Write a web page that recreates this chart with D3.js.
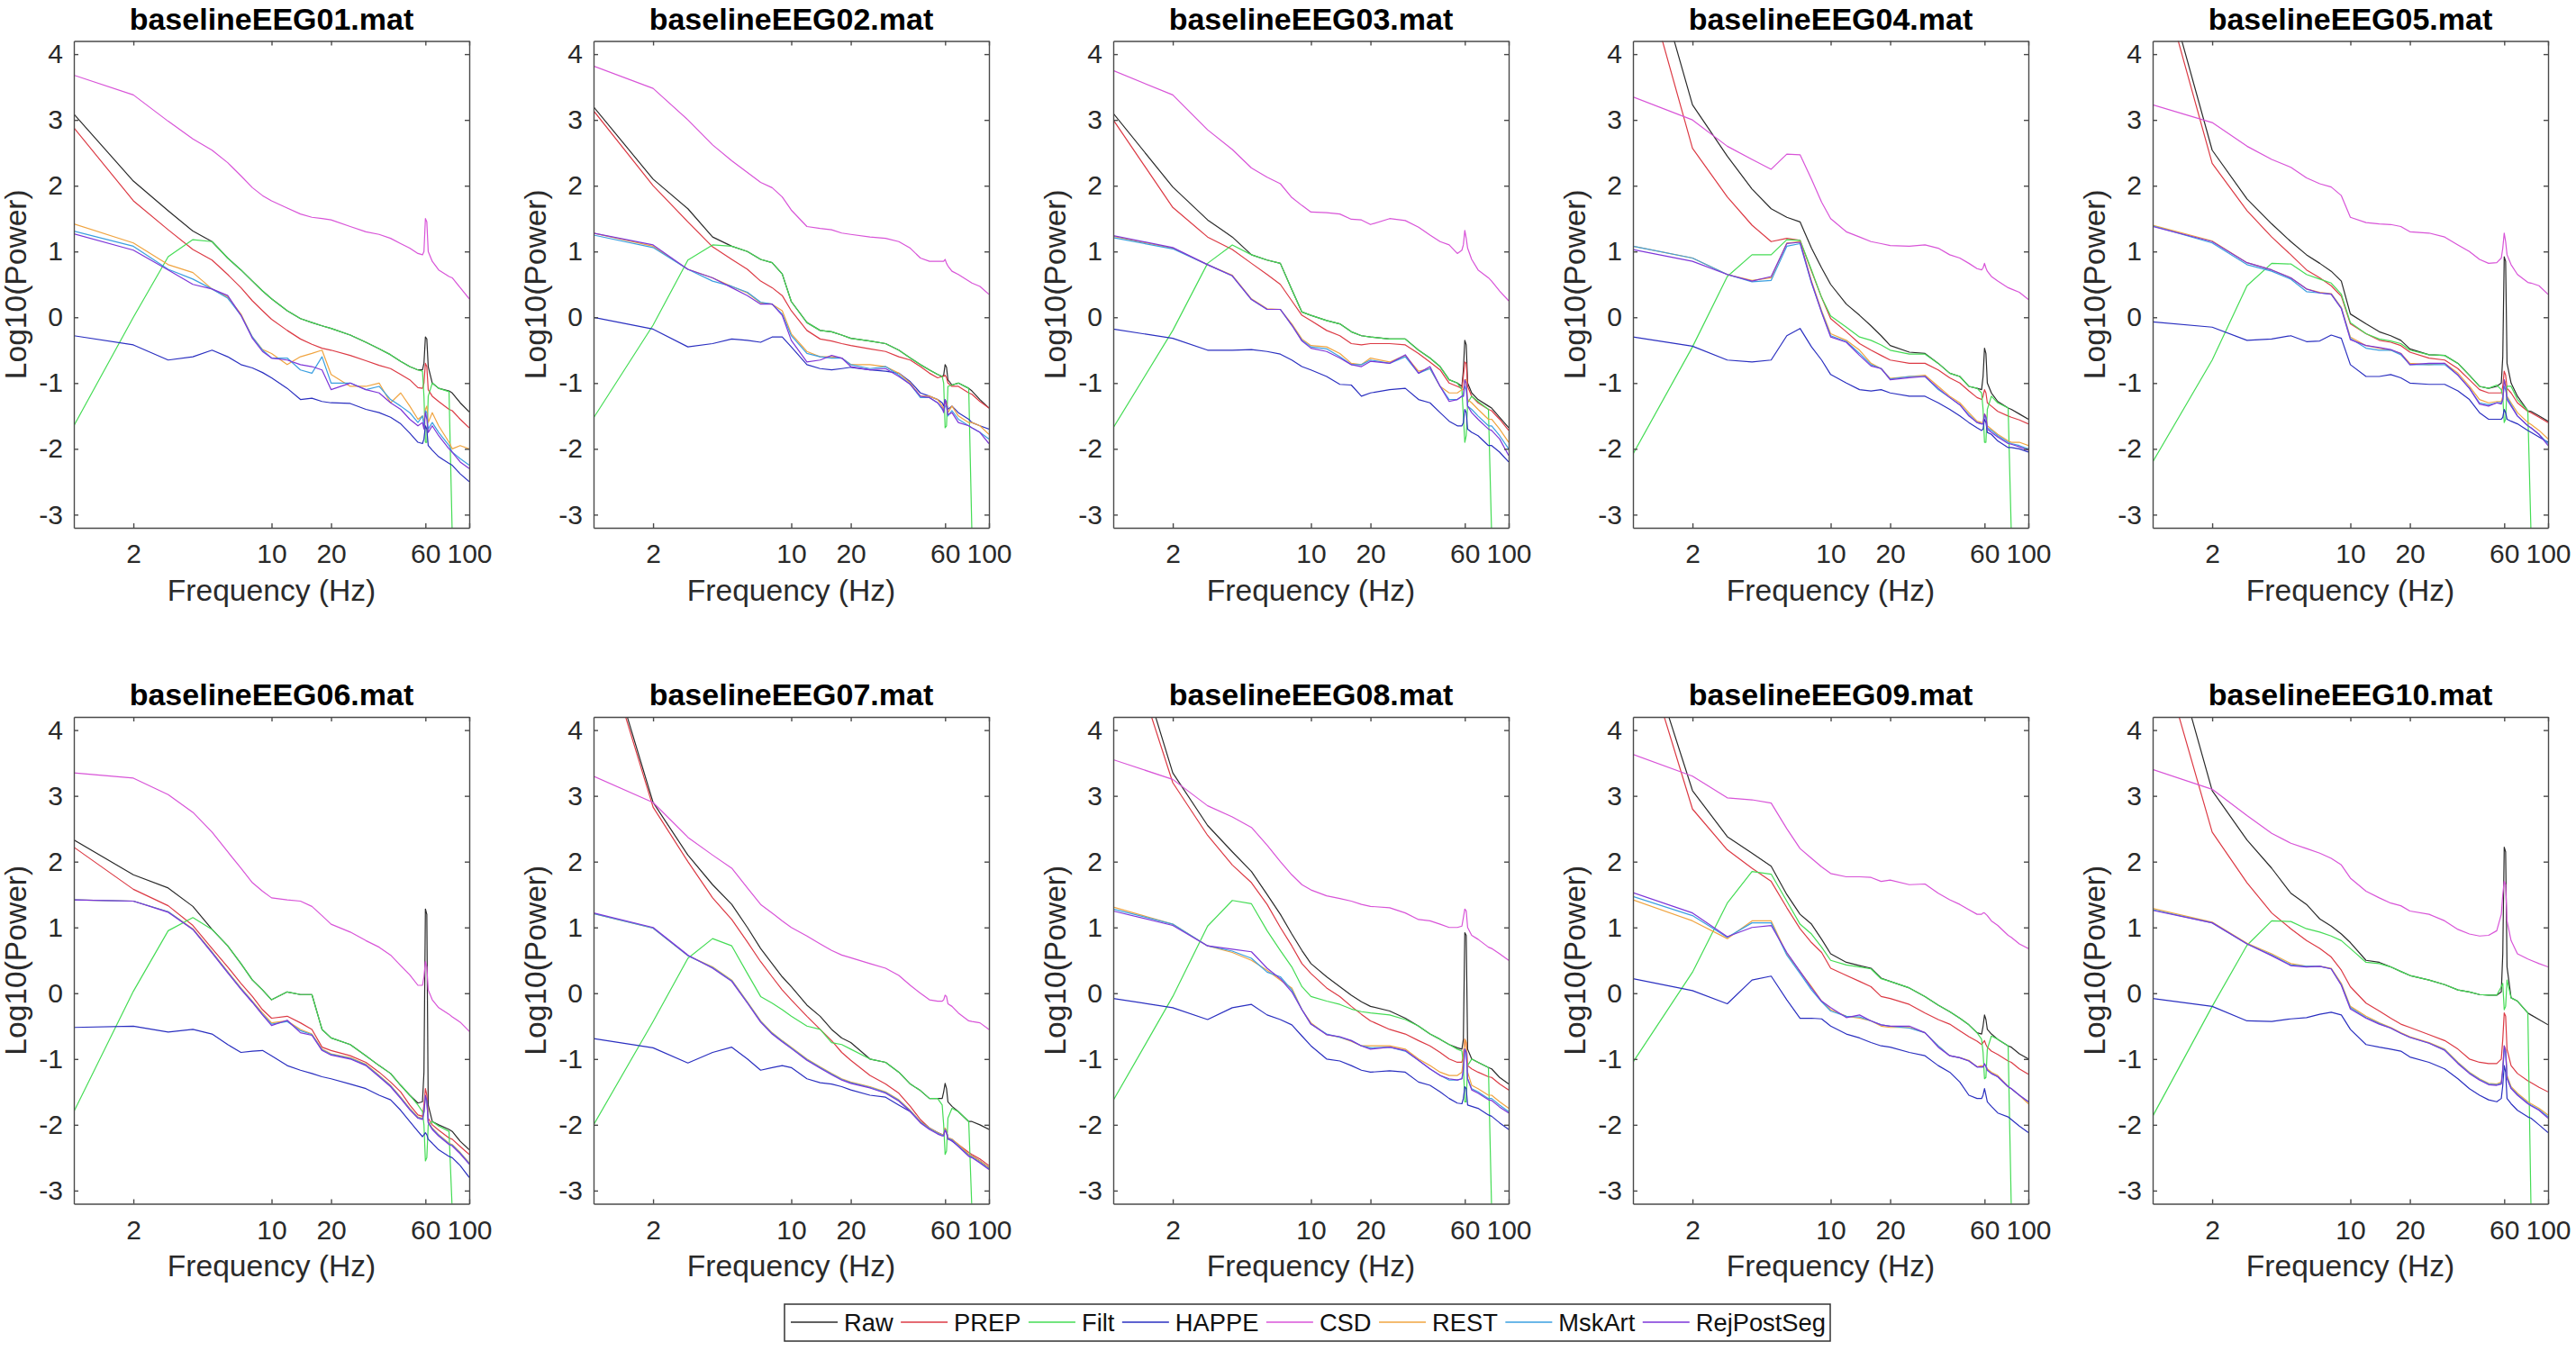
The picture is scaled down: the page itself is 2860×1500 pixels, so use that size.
<!DOCTYPE html>
<html><head><meta charset="utf-8">
<script src="https://cdn.jsdelivr.net/npm/d3@7"></script>
<style>html,body{margin:0;padding:0;background:#fff}svg{display:block}text{font-family:"Liberation Sans",Arial,sans-serif}</style>
</head><body><svg id="c" width="2860" height="1500"></svg>
<script>
const freqs=[1,2,3,4,5,6,7,8,9,10, 12,14,16,18,20, 25,30,35,40,45,50,55, 58,59,60,61,62, 65,70,79,82,90,100];
const xTicks=[2,10,20,60,100];
const yTicks=[-3,-2,-1,0,1,2,3,4];
const seriesNames=["Raw","PREP","Filt","HAPPE","CSD","REST","MskArt","RejPostSeg"];
const seriesColors=["#2b2b2b","#dc3a44","#45dc55","#2a2fc0","#d854d8","#f0a440","#3a9fe0","#7d35d8"];
const titles=["baselineEEG01.mat","baselineEEG02.mat","baselineEEG03.mat","baselineEEG04.mat","baselineEEG05.mat","baselineEEG06.mat","baselineEEG07.mat","baselineEEG08.mat","baselineEEG09.mat","baselineEEG10.mat"];

const raw01=[3.09,2.07,1.62,1.31,1.15,.9,.72,.55,.4,.28, .1,-.02,-.08,-.13,-.17, -.27,-.38,-.48,-.57,-.67,-.75,-.8, -.8,-.7,-.3,-.33,-.75, -1,-1.08,-1.12,-1.15,-1.3,-1.44];
const prep01=[2.88,1.77,1.33,1.03,.87,.65,.45,.25,.1,-.03, -.2,-.33,-.41,-.47,-.5, -.58,-.66,-.73,-.78,-.87,-.95,-1.07, -1.08,-1,-.7,-.75,-1.1, -1.2,-1.28,-1.4,-1.42,-1.55,-1.68];
const filt01=[-1.65,0,.92,1.18,1.15,.9,.72,.55,.4,.28, .1,-.02,-.08,-.13,-.17, -.27,-.38,-.48,-.57,-.67,-.75,-.8, -.82,-1.2,-1.9,-1.9,-1.2, -1,-1.08,-1.13,-3.3,-9,-9];
const happe01=[-.28,-.42,-.65,-.6,-.5,-.6,-.72,-.77,-.84,-.92, -1.08,-1.25,-1.23,-1.28,-1.3, -1.31,-1.4,-1.45,-1.52,-1.62,-1.76,-1.9, -1.92,-1.85,-1.65,-1.7,-1.95, -2.02,-2.12,-2.22,-2.25,-2.38,-2.5];
const csd01=[3.68,3.38,2.98,2.71,2.54,2.35,2.15,1.97,1.85,1.77, 1.66,1.57,1.52,1.5,1.48, 1.38,1.3,1.26,1.2,1.12,1.05,.97, .95,1,1.5,1.45,1, .85,.72,.62,.6,.45,.28];
const rest01=[1.42,1.13,.8,.68,.43,.31,.05,-.3,-.49,-.55, -.72,-.6,-.55,-.5,-.87, -1.05,-1.05,-1,-1.3,-1.15,-1.35,-1.55, -1.5,-1.6,-1.4,-1.35,-1.6, -1.45,-1.65,-1.9,-2,-1.95,-2];
const msk01=[1.31,1.08,.73,.58,.43,.29,.03,-.3,-.5,-.62, -.62,-.8,-.85,-.6,-1, -1,-1.1,-1.05,-1.25,-1.35,-1.45,-1.6, -1.5,-1.65,-1.42,-1.45,-1.7, -1.6,-1.75,-1.95,-2.05,-2.15,-2.25];
const rej01=[1.27,1.02,.72,.5,.43,.33,.03,-.32,-.52,-.62, -.65,-.72,-.75,-.8,-1.1, -1,-1.1,-1.15,-1.3,-1.4,-1.55,-1.65, -1.6,-1.7,-1.45,-1.55,-1.75, -1.65,-1.8,-2,-2.05,-2.2,-2.3];

const raw02=[3.2,2.1,1.65,1.22,1.08,1,.88,.83,.66,.24, -.08,-.2,-.22,-.27,-.32, -.36,-.4,-.5,-.62,-.72,-.8,-.87, -.9,-.88,-.72,-.76,-.95, -1.03,-1,-1.08,-1.12,-1.25,-1.38];
const prep02=[3.14,2,1.45,1.07,.88,.73,.55,.45,.33,.1, -.2,-.33,-.36,-.4,-.43, -.48,-.52,-.6,-.65,-.75,-.85,-.92, -.9,-.9,-.88,-.92,-1, -1.05,-1.05,-1.15,-1.17,-1.28,-1.38];
const filt02=[-1.53,-.12,.87,1.1,1.08,1,.88,.83,.66,.24, -.08,-.2,-.22,-.27,-.32, -.36,-.4,-.5,-.62,-.72,-.8,-.87, -.9,-1,-1.68,-1.65,-1.05, -1.03,-1,-1.08,-3.3,-9,-9];
const happe02=[0,-.18,-.45,-.4,-.33,-.35,-.38,-.3,-.3,-.45, -.72,-.78,-.8,-.78,-.76, -.8,-.82,-.85,-.98,-1.15,-1.2,-1.25, -1.3,-1.35,-1.25,-1.3,-1.4, -1.35,-1.45,-1.55,-1.6,-1.65,-1.7];
const csd02=[3.82,3.48,3,2.62,2.38,2.2,2.05,1.97,1.83,1.63, 1.38,1.35,1.33,1.28,1.26, 1.22,1.2,1.15,1.05,.9,.85,.85, .85,.85,.88,.82,.78, .7,.65,.55,.52,.47,.35];
const rest02=[1.28,1.08,.73,.6,.47,.37,.22,.2,.1,-.25, -.52,-.6,-.6,-.62,-.72, -.72,-.75,-.85,-1,-1.2,-1.2,-1.25, -1.35,-1.4,-1.3,-1.3,-1.45, -1.35,-1.5,-1.6,-1.6,-1.65,-1.78];
const msk02=[1.25,1.06,.73,.55,.47,.38,.23,.2,.05,-.28, -.55,-.6,-.62,-.62,-.72, -.78,-.75,-.88,-1.02,-1.22,-1.22,-1.3, -1.4,-1.42,-1.35,-1.35,-1.5, -1.42,-1.55,-1.65,-1.68,-1.75,-1.85];
const rej02=[1.28,1.1,.73,.6,.45,.33,.2,.2,.03,-.35, -.68,-.65,-.58,-.62,-.75, -.8,-.78,-.9,-1.02,-1.2,-1.22,-1.3, -1.38,-1.45,-1.25,-1.35,-1.48, -1.45,-1.6,-1.65,-1.68,-1.75,-1.92];

const raw03=[3.1,1.98,1.48,1.22,.95,.87,.82,.42,.08,.03, -.05,-.1,-.22,-.28,-.3, -.33,-.33,-.5,-.62,-.75,-.95,-1, -1.05,-.8,-.35,-.42,-1, -1.15,-1.25,-1.35,-1.38,-1.52,-1.68];
const prep03=[3,1.67,1.22,1.03,.82,.65,.5,.25,.03,-.05, -.2,-.28,-.4,-.42,-.4, -.4,-.42,-.55,-.68,-.8,-1,-1.05, -1.08,-.9,-.68,-.7,-1.05, -1.2,-1.3,-1.4,-1.42,-1.55,-1.72];
const filt03=[-1.68,-.2,.82,1.1,.95,.87,.82,.42,.08,.03, -.05,-.1,-.22,-.28,-.3, -.33,-.33,-.5,-.62,-.75,-.95,-1, -1.1,-1.5,-1.9,-1.8,-1.3, -1.2,-1.28,-1.4,-3.3,-9,-9];
const happe03=[-.18,-.32,-.5,-.5,-.49,-.52,-.56,-.65,-.75,-.8, -.9,-1.02,-1.03,-1.2,-1.15, -1.1,-1.08,-1.25,-1.3,-1.45,-1.58,-1.65, -1.65,-1.6,-1.4,-1.45,-1.7, -1.75,-1.8,-1.95,-1.95,-2.05,-2.2];
const csd03=[3.75,3.38,2.85,2.55,2.27,2.13,2.03,1.82,1.7,1.6, 1.59,1.57,1.49,1.48,1.41, 1.5,1.47,1.37,1.25,1.15,1.1,.97, 1.02,1.1,1.32,1.2,1.05, .88,.72,.6,.55,.4,.25];
const rest03=[1.23,1.05,.8,.64,.28,.13,.12,-.1,-.33,-.43, -.45,-.55,-.7,-.72,-.62, -.68,-.58,-.82,-.78,-1.05,-1.15,-1.15, -1.1,-1.1,-.95,-.95,-1.25, -1.3,-1.4,-1.55,-1.55,-1.7,-1.9];
const msk03=[1.21,1.04,.8,.63,.27,.12,.12,-.12,-.35,-.45, -.48,-.6,-.72,-.72,-.65, -.7,-.6,-.85,-.78,-1.05,-1.25,-1.25, -1.2,-1.2,-1.05,-1.1,-1.35, -1.4,-1.5,-1.65,-1.65,-1.8,-2];
const rej03=[1.24,1.06,.8,.63,.27,.12,.12,-.12,-.36,-.47, -.52,-.62,-.72,-.75,-.67, -.7,-.57,-.85,-.75,-1.05,-1.28,-1.25, -1.2,-1.2,-.95,-1,-1.35, -1.45,-1.55,-1.7,-1.72,-1.85,-2.1];

const raw04=[6.4,3.23,2.45,1.95,1.65,1.52,1.45,1.05,.75,.5, .2,.03,-.13,-.28,-.43, -.53,-.55,-.7,-.85,-.9,-1.05,-1.08, -1.1,-.9,-.47,-.55,-1, -1.15,-1.28,-1.38,-1.4,-1.47,-1.55];
const prep04=[5.8,2.57,1.83,1.4,1.15,1.2,1.17,.7,.3,-.02, -.22,-.4,-.5,-.58,-.65, -.7,-.7,-.8,-.92,-1,-1.12,-1.22, -1.25,-1.2,-1.1,-1.15,-1.3, -1.35,-1.43,-1.5,-1.52,-1.56,-1.62];
const filt04=[-2.08,-.45,.62,.95,.95,1.18,1.17,.72,.3,.02, -.15,-.3,-.35,-.42,-.5, -.56,-.56,-.7,-.85,-.9,-1.05,-1.08, -1.15,-1.4,-1.9,-1.9,-1.4, -1.2,-1.3,-1.38,-3.3,-9,-9];
const happe04=[-.3,-.44,-.65,-.68,-.65,-.28,-.17,-.45,-.65,-.87, -1,-1.1,-1.12,-1.1,-1.15, -1.2,-1.2,-1.3,-1.4,-1.5,-1.6,-1.68, -1.72,-1.7,-1.55,-1.6,-1.75, -1.78,-1.88,-1.98,-1.98,-2,-2.05];
const csd04=[3.35,3,2.6,2.4,2.25,2.48,2.47,2.1,1.75,1.5, 1.3,1.22,1.15,1.12,1.09, 1.08,1.1,1.05,.95,.9,.82,.74, .72,.75,.82,.75,.7, .62,.55,.45,.43,.38,.27];
const rest04=[1.08,.9,.65,.56,.6,1.13,1.15,.55,.1,-.25, -.35,-.5,-.7,-.78,-.93, -.9,-.88,-1.05,-1.2,-1.3,-1.45,-1.58, -1.6,-1.6,-1.47,-1.5,-1.65, -1.7,-1.78,-1.88,-1.9,-1.9,-1.95];
const msk04=[1.08,.9,.65,.54,.56,1.08,1.12,.52,.08,-.28, -.37,-.55,-.72,-.78,-.94, -.9,-.9,-1.1,-1.22,-1.33,-1.48,-1.6, -1.62,-1.62,-1.5,-1.52,-1.68, -1.72,-1.8,-1.9,-1.92,-1.95,-2];
const rej04=[1.03,.85,.65,.55,.62,1.12,1.14,.53,.07,-.3, -.38,-.58,-.74,-.78,-.95, -.92,-.9,-1.08,-1.22,-1.33,-1.5,-1.6, -1.62,-1.62,-1.47,-1.52,-1.7, -1.75,-1.82,-1.92,-1.93,-1.97,-2.02];

const raw05=[5.8,2.54,1.8,1.42,1.15,.95,.82,.7,.55,.05, -.1,-.22,-.28,-.35,-.48, -.57,-.58,-.7,-.88,-1.05,-1.08,-1.05, -1,-.6,.92,.85,-.7, -1,-1.2,-1.42,-1.43,-1.5,-1.58];
const prep05=[5.6,2.34,1.62,1.22,.95,.72,.6,.48,.32,-.1, -.25,-.35,-.38,-.43,-.53, -.62,-.65,-.78,-.95,-1.1,-1.15,-1.15, -1.15,-1.05,-.82,-.88,-1.08, -1.15,-1.3,-1.43,-1.45,-1.52,-1.6];
const filt05=[-2.2,-.65,.48,.82,.81,.65,.58,.52,.35,-.08, -.25,-.33,-.36,-.4,-.5, -.57,-.58,-.7,-.88,-1.05,-1.08,-1.03, -1.1,-1.2,-1.6,-1.55,-1.05, -1.05,-1.25,-1.42,-3.3,-9,-9];
const happe05=[-.07,-.15,-.35,-.33,-.28,-.37,-.36,-.27,-.32,-.72, -.9,-.9,-.87,-.92,-1, -1.02,-1.02,-1.12,-1.25,-1.45,-1.55,-1.55, -1.55,-1.52,-1.4,-1.45,-1.55, -1.58,-1.62,-1.72,-1.75,-1.82,-1.9];
const csd05=[3.23,2.96,2.6,2.4,2.28,2.12,2.03,1.98,1.85,1.52, 1.44,1.42,1.41,1.38,1.3, 1.28,1.22,1.1,1,.88,.82,.83, .9,1.05,1.28,1.15,.95, .8,.65,.53,.52,.48,.35];
const rest05=[1.4,1.16,.83,.72,.6,.43,.38,.36,.15,-.3, -.43,-.47,-.5,-.55,-.7, -.72,-.7,-.85,-1.05,-1.25,-1.3,-1.28, -1.28,-1.2,-.95,-1,-1.2, -1.3,-1.45,-1.6,-1.63,-1.72,-1.85];
const msk05=[1.39,1.13,.8,.7,.58,.39,.37,.35,.14,-.32, -.47,-.5,-.5,-.57,-.72, -.72,-.72,-.88,-1.08,-1.3,-1.33,-1.3, -1.3,-1.25,-1.05,-1.1,-1.22, -1.33,-1.5,-1.65,-1.68,-1.78,-1.92];
const rej05=[1.38,1.15,.83,.72,.6,.43,.37,.35,.13,-.34, -.43,-.46,-.49,-.55,-.72, -.7,-.7,-.88,-1.08,-1.32,-1.35,-1.3, -1.32,-1.25,-.95,-1.05,-1.25, -1.35,-1.5,-1.65,-1.68,-1.78,-1.95];

const raw06=[2.33,1.8,1.6,1.32,.97,.72,.45,.2,.05,-.1, .02,-.02,-.02,-.55,-.68, -.78,-.95,-1.1,-1.22,-1.4,-1.55,-1.67, -1.65,-1.2,1.28,1.2,-1.7, -1.95,-2,-2.07,-2.1,-2.25,-2.38];
const prep06=[2.22,1.58,1.33,1.03,.68,.4,.15,-.05,-.25,-.38, -.35,-.45,-.55,-.82,-.87, -.95,-1.05,-1.2,-1.35,-1.5,-1.7,-1.85, -1.87,-1.7,-1.45,-1.55,-1.9, -2,-2.08,-2.2,-2.22,-2.33,-2.45];
const filt06=[-1.8,.03,.95,1.15,.97,.72,.45,.2,.05,-.1, .02,-.02,-.02,-.55,-.68, -.78,-.95,-1.1,-1.22,-1.4,-1.55,-1.7, -1.8,-2,-2.55,-2.5,-2, -1.95,-2.02,-2.1,-3.3,-9,-9];
const happe06=[-.52,-.5,-.59,-.55,-.62,-.78,-.9,-.88,-.87,-.95, -1.1,-1.17,-1.22,-1.27,-1.3, -1.38,-1.45,-1.55,-1.62,-1.78,-1.95,-2.1, -2.18,-2.15,-2.12,-2.15,-2.22, -2.28,-2.38,-2.48,-2.5,-2.62,-2.8];
const csd06=[3.35,3.27,3.02,2.75,2.45,2.15,1.9,1.68,1.55,1.45, 1.42,1.4,1.32,1.18,1.05, .93,.8,.7,.58,.42,.28,.12, .12,.25,.48,.4,.05, -.1,-.22,-.32,-.36,-.44,-.58];
const rest06=[1.42,1.4,1.24,.98,.63,.33,.08,-.12,-.3,-.45, -.42,-.55,-.62,-.85,-.92, -.98,-1.08,-1.25,-1.4,-1.58,-1.75,-1.88, -1.9,-1.8,-1.55,-1.62,-1.95, -2.05,-2.15,-2.28,-2.3,-2.42,-2.58];
const msk06=[1.42,1.4,1.24,.97,.62,.32,.07,-.13,-.32,-.47, -.43,-.57,-.63,-.86,-.93, -.99,-1.09,-1.26,-1.41,-1.59,-1.76,-1.89, -1.91,-1.82,-1.58,-1.64,-1.96, -2.06,-2.16,-2.29,-2.31,-2.43,-2.59];
const rej06=[1.42,1.4,1.23,.97,.61,.31,.06,-.14,-.33,-.49, -.41,-.6,-.64,-.87,-.94, -1,-1.1,-1.27,-1.42,-1.6,-1.77,-1.9, -1.92,-1.8,-1.55,-1.63,-1.97, -2.07,-2.17,-2.3,-2.32,-2.44,-2.6];

const raw07=[5.9,2.9,2.1,1.65,1.35,1,.68,.45,.25,.1, -.18,-.35,-.55,-.68,-.75, -1,-1.05,-1.2,-1.38,-1.48,-1.6,-1.6, -1.6,-1.5,-1.37,-1.45,-1.65, -1.72,-1.8,-1.95,-1.95,-2,-2.07];
const prep07=[5.8,2.83,2,1.45,1.12,.78,.48,.25,.05,-.1, -.35,-.55,-.72,-.9,-1.02, -1.25,-1.38,-1.52,-1.72,-1.92,-2.05,-2.12, -2.15,-2.15,-2.05,-2.1,-2.2, -2.22,-2.3,-2.42,-2.45,-2.52,-2.62];
const filt07=[-2,-.43,.53,.83,.72,.3,-.05,-.15,-.25,-.35, -.5,-.55,-.75,-.78,-.85, -1,-1.05,-1.2,-1.38,-1.48,-1.6,-1.6, -1.7,-2,-2.45,-2.4,-1.9, -1.75,-1.8,-1.95,-3.3,-9,-9];
const happe07=[-.69,-.83,-1.06,-.9,-.82,-1,-1.17,-1.13,-1.1,-1.13, -1.3,-1.36,-1.38,-1.42,-1.47, -1.55,-1.58,-1.7,-1.8,-1.95,-2.05,-2.12, -2.15,-2.15,-2.08,-2.1,-2.2, -2.25,-2.32,-2.45,-2.47,-2.55,-2.65];
const csd07=[3.3,2.9,2.37,2.1,1.9,1.6,1.35,1.22,1.1,1, .87,.75,.65,.58,.54, .45,.38,.27,.12,0,-.1,-.12, -.12,-.1,-.03,-.05,-.16, -.2,-.3,-.42,-.43,-.45,-.55];
const rest07=[1.21,.99,.57,.4,.2,-.13,-.42,-.6,-.72,-.82, -1,-1.12,-1.22,-1.3,-1.35, -1.42,-1.5,-1.62,-1.78,-1.95,-2.05,-2.12, -2.15,-2.15,-2.05,-2.1,-2.2, -2.22,-2.3,-2.45,-2.47,-2.55,-2.65];
const msk07=[1.21,.99,.57,.39,.19,-.14,-.43,-.61,-.73,-.83, -1.01,-1.13,-1.23,-1.31,-1.36, -1.43,-1.51,-1.63,-1.79,-1.96,-2.06,-2.13, -2.16,-2.16,-2.07,-2.12,-2.21, -2.23,-2.32,-2.47,-2.49,-2.57,-2.67];
const rej07=[1.22,1,.58,.38,.18,-.15,-.44,-.62,-.74,-.84, -1.02,-1.14,-1.24,-1.32,-1.37, -1.44,-1.52,-1.64,-1.8,-1.97,-2.07,-2.14, -2.17,-2.17,-2.08,-2.13,-2.22, -2.24,-2.33,-2.48,-2.5,-2.58,-2.68];

const raw08=[6.3,3.35,2.55,2.15,1.85,1.5,1.2,.9,.65,.45, .25,.1,-.03,-.13,-.2, -.27,-.38,-.5,-.62,-.7,-.78,-.83, -.85,-.7,.92,.88,-.85, -1,-1.05,-1.13,-1.15,-1.28,-1.38];
const prep08=[6,3.2,2.4,1.95,1.68,1.35,1,.72,.45,.3, .08,-.05,-.2,-.32,-.42, -.55,-.62,-.72,-.8,-.9,-1,-1.05, -1.05,-.95,-.7,-.75,-1.1, -1.15,-1.2,-1.27,-1.28,-1.38,-1.47];
const filt08=[-1.63,-.05,1.02,1.41,1.36,.95,.65,.4,.1,-.05, -.12,-.17,-.24,-.28,-.3, -.33,-.4,-.5,-.62,-.7,-.78,-.85, -.88,-1.1,-1.65,-1.65,-1.1, -1,-1.05,-1.13,-3.3,-9,-9];
const happe08=[-.08,-.22,-.4,-.22,-.17,-.33,-.4,-.48,-.65,-.8, -1,-1.03,-1.1,-1.17,-1.2, -1.18,-1.2,-1.35,-1.4,-1.5,-1.6,-1.67, -1.68,-1.6,-1.42,-1.45,-1.7, -1.72,-1.75,-1.85,-1.87,-1.97,-2.07];
const csd08=[3.55,3.25,2.85,2.68,2.52,2.25,2,1.8,1.65,1.57, 1.48,1.44,1.4,1.35,1.32, 1.3,1.22,1.12,1.1,1.05,1,1, 1.02,1.15,1.28,1.25,1, .88,.82,.7,.68,.6,.5];
const rest08=[1.31,1.05,.72,.62,.5,.35,.2,.08,-.25,-.45, -.63,-.67,-.73,-.8,-.8, -.8,-.85,-1,-1.1,-1.2,-1.25,-1.25, -1.2,-1,-.7,-.75,-1.2, -1.4,-1.45,-1.55,-1.55,-1.65,-1.75];
const msk08=[1.28,1.05,.72,.64,.53,.32,.25,.05,-.25,-.47, -.62,-.67,-.72,-.8,-.83, -.82,-.88,-1.02,-1.15,-1.25,-1.32,-1.32, -1.3,-1.2,-.85,-.9,-1.3, -1.45,-1.5,-1.6,-1.6,-1.7,-1.8];
const rej08=[1.25,1.03,.72,.67,.63,.38,.22,.02,-.25,-.47, -.63,-.66,-.72,-.8,-.85, -.82,-.87,-1.02,-1.15,-1.25,-1.3,-1.32, -1.3,-1.15,-.85,-.9,-1.3, -1.47,-1.52,-1.62,-1.63,-1.73,-1.82];

const raw09=[5.9,3.08,2.38,2.13,1.93,1.5,1.2,1.05,.82,.6, .47,.42,.38,.23,.18, .08,-.05,-.18,-.28,-.38,-.48,-.6, -.62,-.5,-.33,-.4,-.55, -.62,-.7,-.8,-.82,-.92,-1];
const prep09=[5.75,2.8,2.18,1.9,1.7,1.3,.98,.77,.62,.38, .27,.18,.1,-.05,-.08, -.17,-.3,-.4,-.47,-.57,-.66,-.73, -.78,-.75,-.72,-.78,-.82, -.88,-.93,-1.03,-1.05,-1.15,-1.23];
const filt09=[-1.05,.32,1.37,1.85,1.81,1.4,1.05,.9,.7,.5, .43,.4,.37,.22,.18, .08,-.05,-.18,-.28,-.38,-.48,-.6, -.7,-.9,-1.3,-1.28,-.85, -.65,-.7,-.8,-3.3,-9,-9];
const happe09=[.22,.04,-.16,.2,.26,-.1,-.38,-.38,-.39,-.5, -.62,-.68,-.75,-.8,-.82, -.9,-.95,-1.1,-1.2,-1.35,-1.55,-1.6, -1.6,-1.55,-1.45,-1.55,-1.65, -1.72,-1.82,-1.88,-1.92,-2.02,-2.12];
const csd09=[3.63,3.3,2.97,2.94,2.89,2.5,2.2,2.05,1.92,1.82, 1.77,1.77,1.76,1.7,1.72, 1.65,1.66,1.52,1.42,1.35,1.27,1.2, 1.2,1.22,1.22,1.2,1.18, 1.1,1.03,.88,.85,.75,.68];
const rest09=[1.42,1.1,.83,1.1,1.1,.6,.33,.1,-.12,-.25, -.35,-.38,-.42,-.5,-.52, -.52,-.6,-.8,-.95,-.98,-1.02,-1.12, -1.1,-1.12,-1.08,-1.1,-1.15, -1.2,-1.25,-1.42,-1.45,-1.55,-1.68];
const msk09=[1.47,1.18,.85,1.07,1.07,.58,.3,.05,-.13,-.27, -.35,-.36,-.42,-.48,-.5, -.53,-.6,-.8,-.95,-.98,-1.03,-1.12, -1.12,-1.12,-1.08,-1.1,-1.17, -1.22,-1.27,-1.42,-1.45,-1.55,-1.65];
const rej09=[1.53,1.22,.86,1,1.03,.62,.33,.08,-.12,-.22, -.37,-.33,-.42,-.48,-.5, -.5,-.6,-.82,-.95,-.98,-1.03,-1.12, -1.12,-1.12,-1.07,-1.12,-1.17, -1.22,-1.27,-1.42,-1.45,-1.55,-1.65];

const raw10=[6.3,3.08,2.33,1.9,1.52,1.35,1.13,1.02,.9,.77, .5,.47,.4,.33,.27, .2,.13,.05,.02,-.02,-.03,-.03, .02,.6,2.22,2.15,.4, -.07,-.12,-.3,-.33,-.4,-.48];
const prep10=[5.6,2.45,1.68,1.22,.98,.8,.68,.55,.35,.1, -.15,-.27,-.38,-.47,-.52, -.63,-.72,-.85,-1,-1.05,-1.07,-1.07, -1,-.7,-.3,-.35,-.85, -1.1,-1.22,-1.33,-1.36,-1.43,-1.5];
const filt10=[-1.87,-.2,.73,1.1,1.09,.98,.93,.87,.8,.68, .47,.45,.4,.33,.27, .2,.13,.05,.02,-.02,-.03,-.03, .1,.15,-.25,-.2,.2, -.07,-.12,-.3,-3.3,-9,-9];
const happe10=[-.08,-.2,-.42,-.43,-.39,-.37,-.32,-.29,-.33,-.55, -.78,-.82,-.85,-.88,-.97, -1.05,-1.15,-1.3,-1.45,-1.55,-1.62,-1.65, -1.6,-1.4,-1.1,-1.2,-1.6, -1.68,-1.78,-1.88,-1.9,-2,-2.12];
const csd10=[3.4,3.1,2.7,2.43,2.28,2.2,2.13,2.05,1.95,1.75, 1.55,1.45,1.37,1.33,1.25, 1.2,1.1,.97,.9,.87,.88,.95, 1.2,1.5,1.7,1.65,1.1, .8,.6,.52,.5,.45,.4];
const rest10=[1.29,1.08,.76,.6,.45,.41,.41,.38,.15,-.2, -.35,-.45,-.52,-.6,-.66, -.75,-.85,-1.05,-1.2,-1.3,-1.37,-1.38, -1.35,-1.15,-.8,-.85,-1.25, -1.42,-1.52,-1.65,-1.68,-1.75,-1.85];
const msk10=[1.27,1.07,.75,.58,.43,.41,.41,.37,.13,-.22, -.37,-.46,-.53,-.61,-.67, -.76,-.86,-1.06,-1.21,-1.31,-1.38,-1.39, -1.37,-1.2,-.85,-.9,-1.28, -1.44,-1.54,-1.67,-1.7,-1.77,-1.88];
const rej10=[1.26,1.07,.75,.57,.42,.4,.41,.37,.12,-.24, -.38,-.47,-.53,-.61,-.67, -.76,-.87,-1.07,-1.22,-1.32,-1.39,-1.4, -1.38,-1.15,-.8,-.87,-1.3, -1.45,-1.55,-1.68,-1.71,-1.78,-1.9];

const panelSeries=[
 [raw01,prep01,filt01,happe01,csd01,rest01,msk01,rej01],
 [raw02,prep02,filt02,happe02,csd02,rest02,msk02,rej02],
 [raw03,prep03,filt03,happe03,csd03,rest03,msk03,rej03],
 [raw04,prep04,filt04,happe04,csd04,rest04,msk04,rej04],
 [raw05,prep05,filt05,happe05,csd05,rest05,msk05,rej05],
 [raw06,prep06,filt06,happe06,csd06,rest06,msk06,rej06],
 [raw07,prep07,filt07,happe07,csd07,rest07,msk07,rej07],
 [raw08,prep08,filt08,happe08,csd08,rest08,msk08,rej08],
 [raw09,prep09,filt09,happe09,csd09,rest09,msk09,rej09],
 [raw10,prep10,filt10,happe10,csd10,rest10,msk10,rej10]
];

const svg=d3.select("#c");
const W=439,H=540.5,colStep=577,rowTops=[45.5,796],left0=82;
const x=d3.scaleLog().domain([1,100]).range([0,W]);
const y=d3.scaleLinear().domain([-3.2,4.2]).range([H,0]);
const line=d3.line().x((d,i)=>x(freqs[i])).y(d=>y(d));
const axisColor="#4a4a4a",textColor="#2a2a2a";

titles.forEach((t,k)=>{
  const g=svg.append("g").attr("transform",`translate(${left0+(k%5)*colStep},${rowTops[Math.floor(k/5)]})`);
  g.append("clipPath").attr("id","clip"+k).append("rect").attr("width",W).attr("height",H);
  const lines=g.append("g").attr("clip-path",`url(#clip${k})`);
  panelSeries[k].forEach((vals,s)=>{
    lines.append("path").datum(vals).attr("d",line).attr("fill","none")
      .attr("stroke",seriesColors[s]).attr("stroke-width",1.2).attr("stroke-linejoin","round");
  });
  const fmt=d=>String(d);
  const axes=[
    [d3.axisBottom(x).tickValues(xTicks).tickFormat(fmt).tickSizeInner(-5).tickSizeOuter(0).tickPadding(18),`translate(0,${H})`],
    [d3.axisLeft(y).tickValues(yTicks).tickFormat(fmt).tickSizeInner(-5).tickSizeOuter(0).tickPadding(12),null],
    [d3.axisTop(x).tickValues(xTicks).tickFormat("").tickSizeInner(-5).tickSizeOuter(0),null],
    [d3.axisRight(y).tickValues(yTicks).tickFormat("").tickSizeInner(-5).tickSizeOuter(0),`translate(${W},0)`]
  ];
  axes.forEach(([ax,tr])=>{
    const a=g.append("g").call(ax);
    if(tr)a.attr("transform",tr);
    a.selectAll("path,line").attr("stroke",axisColor).attr("stroke-width",1.4);
    a.selectAll("text").attr("fill",textColor).attr("font-size",30).attr("font-family",'"Liberation Sans",Arial,sans-serif');
  });
  g.append("text").attr("x",W/2).attr("y",-13).attr("text-anchor","middle")
    .attr("font-weight","bold").attr("font-size",34).attr("fill","#000").text(t);
  g.append("text").attr("x",W/2).attr("y",H+80.5).attr("text-anchor","middle")
    .attr("font-size",33.6).attr("fill",textColor).text("Frequency (Hz)");
  g.append("text").attr("transform",`translate(-53,${H/2}) rotate(-90)`).attr("text-anchor","middle")
    .attr("font-size",33.6).attr("fill",textColor).text("Log10(Power)");
});

// legend
const lg=svg.append("g");
lg.append("rect").attr("x",871).attr("y",1448).attr("width",1161).attr("height",41)
  .attr("fill","#fff").attr("stroke","#333").attr("stroke-width",1.5);
let cx=878;
seriesNames.forEach((n,i)=>{
  lg.append("line").attr("x1",cx).attr("x2",cx+52).attr("y1",1468).attr("y2",1468)
    .attr("stroke",seriesColors[i]).attr("stroke-width",1.6);
  const t=lg.append("text").attr("x",cx+59).attr("y",1478).attr("font-size",27.3).attr("fill","#111").text(n);
  cx+=59+t.node().getComputedTextLength()+8.5;
});
</script></body></html>
